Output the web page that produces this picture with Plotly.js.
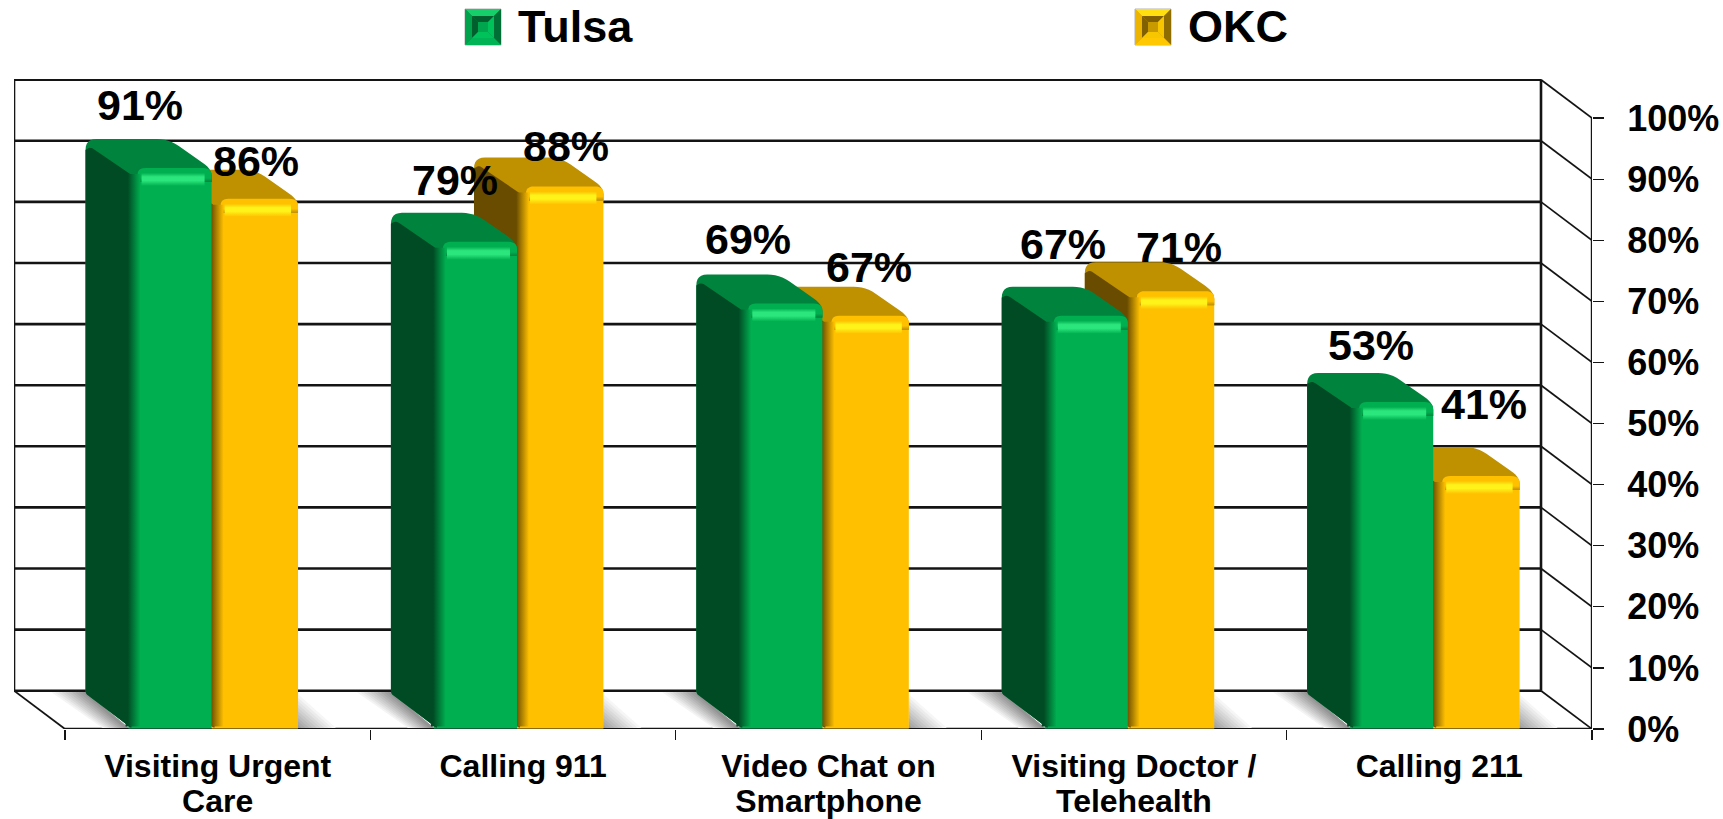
<!DOCTYPE html>
<html><head><meta charset="utf-8">
<script src="https://cdn.plot.ly/plotly-3.0.1.min.js"></script>
<style>html,body{margin:0;padding:0;background:#fff}#c{width:1723px;height:819px}</style>
</head><body><div id="c"></div>
<script>
const categories=['Visiting Urgent<br>Care','Calling 911','Video Chat on<br>Smartphone','Visiting Doctor /<br>Telehealth','Calling 211'];
const tulsa=[91,79,69,67,53];
const okc=[86,88,67,71,41];
const seriesNames=['Tulsa','OKC'];
const percentTicks=[0,10,20,30,40,50,60,70,80,90,100];
const tulsaLabelNudge=[-30,-20,-33,-23,-21];
const okcLabelNudge=[1,6,3,8,8];
const tulsaLabelLift=[68,66,68,76,60];
const okcLabelLift=[43,45,53,48,74];

const W=1723,H=819,L=14,R=1592,T=79,B=729;
const UX=305.4, YB=6.11, YF=6.16;
const px=v=>v/UX, py=v=>v/YF;
const xr=[-0.5-51/UX,4.5], yr=[0,(B-T)/YB], yrBar=[-0.08,(B-T)/YF-0.08];
const depthX=px(51), depthY=38.3/YB;
const ink='#141414';
const font={family:'Liberation Sans, Arial, sans-serif',weight:700,color:'#000'};
const traces=[];
function poly(x,y,color,axis,grad){
  const t={type:'scatter',mode:'none',x,y,fill:'toself',fillcolor:color,hoverinfo:'skip',showlegend:false,cliponaxis:false,xaxis:axis[0],yaxis:axis[1]};
  if(grad)t.fillgradient=grad;
  traces.push(t);
}
function line(x,y,w){traces.push({type:'scatter',mode:'lines',x,y,line:{color:ink,width:w,simplify:false},hoverinfo:'skip',showlegend:false,cliponaxis:false,xaxis:'x',yaxis:'y'});}
// walls
percentTicks.forEach(v=>{
  line([-0.5-depthX,4.5-depthX],[v+depthY,v+depthY],2.6);
  if(v===0)line([-0.5-depthX,-0.5],[depthY,0],1.8);
  line([4.5-depthX,4.5],[v+depthY,v],1.7);
});
line([-0.5-depthX,-0.5-depthX],[depthY,100+depthY],2.6);
line([4.5-depthX,4.5-depthX],[depthY,100+depthY],2.6);
line([4.5,4.5],[0,100],2.4);
line([-0.5,4.5],[0,0],2.6);

const G={tulsa:{a:-0.292,w:0.272,front:'#00B050',side:'#004B24',top:'#00843D',glow:'#2BE67C',ax:['x3','y3']},
         okc:{a:-0.020,w:0.283,front:'#FFC000',side:'#694C00',top:'#BF9000',glow:'#FFF31A',ax:['x2','y2']}};
// rounded outline: vertices [x px, height px, corner radius px]
function rounded(pts){
  const out=[],n=pts.length;
  pts.forEach((p,i)=>{
    const a=pts[(i+n-1)%n],c=pts[(i+1)%n],r=p[2];
    if(!r){out.push([p[0],p[1]]);return;}
    const d1=Math.hypot(a[0]-p[0],a[1]-p[1]),d2=Math.hypot(c[0]-p[0],c[1]-p[1]);
    const r1=Math.min(r,d1/2)/d1,r2=Math.min(r,d2/2)/d2;
    const s=[p[0]+(a[0]-p[0])*r1,p[1]+(a[1]-p[1])*r1],e=[p[0]+(c[0]-p[0])*r2,p[1]+(c[1]-p[1])*r2];
    for(let k=0;k<=6;k++){const t=k/6,u=1-t;out.push([u*u*s[0]+2*u*t*p[0]+t*t*e[0],u*u*s[1]+2*u*t*p[1]+t*t*e[1]]);}
  });
  return out;
}
function shape(cx,pts,color,axis,grad){
  const r=rounded(pts);
  poly(r.map(p=>cx+p[0]/UX),r.map(p=>p[1]/YF),color,axis,grad);
}
function shadow(i){
  const g=G.tulsa,n=10,x0=i+g.a,xb=x0-px(43);
  for(let j=0;j<n;j++){
    const f=1-j/n,c=Math.round(255-(255-148)*(j+1)/n),col=`rgb(${c},${c},${c})`;
    poly([xb,xb-px(34)*f,x0-px(24)*f-px(2),x0],[py(37),py(37),py(1),py(1)],col,['x','y']);
  }
  const o=G.okc,xe=i+o.a+o.w;
  for(let j=0;j<n;j++){
    const f=1-j/n,c=Math.round(255-(255-160)*(j+1)/n),col=`rgb(${c},${c},${c})`;
    poly([xe,xe,xe+px(38)*f],[py(1),py(1)+py(34)*f,py(1)],col,['x','y']);
  }
}
categories.forEach((_,i)=>shadow(i));

function solid(i,v,g){
  const a=i+g.a,wp=g.w*UX,h=v*YF;
  // outline of top and side faces
  shape(a,[[2,1,0],[-43,35,3],[-43,h+29,11],[wp-43,h+29,12],[wp,h-1,11],[wp,h-14,0],[2,h-14,0]],g.top,g.ax);
  // dark side face
  shape(a,[[2,1,4],[-43,35,3],[-43,h+18,0],[-38,h+21,4],[3,h-7,3],[3,1,0]],g.side,g.ax);
  // rounded upper end of the front face, fading from the top colour
  shape(a,[[9,h-14,0],[9,h,8],[wp,h,9],[wp,h-14,0]],g.front,g.ax,{type:'vertical',colorscale:[[0,g.top],[0.28,g.front],[1,g.front]]});
  // soft shading of the front-left edge
  poly([a-px(3),a+px(12),a+px(12),a-px(3)],[py(2),py(2),py(h-6),py(h-6)],g.front,g.ax,{type:'horizontal',colorscale:[[0,g.side],[0.15,g.side],[1,g.front]]});
  // glossy strip under the top edge
  poly([a+px(13),a+px(wp-7),a+px(wp-7),a+px(13)],[py(h-5),py(h-5),py(h-18),py(h-18)],g.front,g.ax,{type:'vertical',colorscale:[[0,g.front],[0.42,g.glow],[0.7,g.glow],[1,g.front]]});
}
traces.push({type:'bar',name:seriesNames[1],x:[0,1,2,3,4],y:okc,width:G.okc.w,offset:G.okc.a,marker:{color:G.okc.front,line:{width:0}},xaxis:'x2',yaxis:'y2',hoverinfo:'x+y',showlegend:false});
okc.forEach((v,i)=>solid(i,v,G.okc));
traces.push({type:'bar',name:seriesNames[0],x:[0,1,2,3,4],y:tulsa,width:G.tulsa.w,offset:G.tulsa.a,marker:{color:G.tulsa.front,line:{width:0}},xaxis:'x3',yaxis:'y3',hoverinfo:'x+y',showlegend:false});
tulsa.forEach((v,i)=>solid(i,v,G.tulsa));

const annotations=[];
function lab(i,v,g,nudgeX,lift){
  annotations.push({xref:'x',yref:'y',x:i+g.a+g.w/2,y:v,xshift:nudgeX,yshift:lift,text:v+'%',showarrow:false,font:{...font,size:43},xanchor:'center',yanchor:'middle'});
}
tulsa.forEach((v,i)=>lab(i,v,G.tulsa,tulsaLabelNudge[i],tulsaLabelLift[i]));
okc.forEach((v,i)=>lab(i,v,G.okc,okcLabelNudge[i],okcLabelLift[i]));

// legend swatches: an outer bevelled frame around a recessed square
const pxX=v=>(v-L)/(R-L), pxY=v=>(B-v)/(B-T);
function legend(x,y,c,name,tx){
  const s=36,P=(pts,col,ln)=>({type:'path',xref:'paper',yref:'paper',line:ln||{width:0},fillcolor:col,layer:'above',
    path:pts.map((p,k)=>(k?'L':'M')+pxX(x+p[0])+','+pxY(y+p[1])).join(' ')+' Z'});
  const bevel=(i,j,cols)=>[
    P([[i,i],[s-i,i],[s-j,j],[j,j]],cols[0]),P([[i,i],[j,j],[j,s-j],[i,s-i]],cols[1]),
    P([[s-i,i],[s-i,s-i],[s-j,s-j],[s-j,j]],cols[2]),P([[i,s-i],[j,s-j],[s-j,s-j],[s-i,s-i]],cols[3])];
  return {ann:{xref:'paper',yref:'paper',x:pxX(tx),y:pxY(27),xanchor:'left',yanchor:'middle',text:name,showarrow:false,font:{...font,size:45}},
   shapes:[P([[0,0],[s,0],[s,s],[0,s]],c[4],{width:1,color:'#b5b5b5'}),...bevel(0,7,c.slice(0,4)),...bevel(7,13,[c[5],c[5],c[6],c[6]]),
     P([[13,13],[s-13,13],[s-13,s-13],[13,s-13]],c[7])]};
}
const l1=legend(465,9,['#16CF6B','#00A24C','#006F35','#00B455','#00853F','#005F2D','#00C25B','#00A54E'],seriesNames[0],516);
const l2=legend(1135,9,['#FFDF10','#EDB500','#8F6D00','#FFC800','#C99A00','#806000','#F7C600','#C89A00'],seriesNames[1],1186);
annotations.push(l1.ann,l2.ann);

const hidden={visible:false,fixedrange:true};
const layout={
  width:W,height:H,margin:{l:L,r:W-R,t:T,b:H-B,pad:0},paper_bgcolor:'#fff',plot_bgcolor:'#fff',showlegend:false,barmode:'overlay',barcornerradius:8,
  xaxis:{range:xr,tickmode:'array',tickvals:[0,1,2,3,4],ticktext:categories,ticks:'',showgrid:false,zeroline:false,showline:false,tickfont:{...font,size:32},ticklabelstandoff:15,
    minor:{tickmode:'array',tickvals:[-0.5,0.5,1.5,2.5,3.5,4.5],ticks:'outside',ticklen:10,tickwidth:1.2,tickcolor:ink,showgrid:false}},
  yaxis:{range:yr,side:'right',anchor:'free',position:1,tickmode:'array',tickvals:percentTicks,ticktext:percentTicks.map(v=>v+'%'),ticks:'outside',ticklen:11,tickwidth:1.2,tickcolor:ink,showgrid:false,zeroline:false,showline:false,tickfont:{...font,size:36},ticklabelstandoff:16},
  xaxis2:{...hidden,range:xr,overlaying:'x'},yaxis2:{...hidden,range:yrBar,overlaying:'y'},
  xaxis3:{...hidden,range:xr,overlaying:'x'},yaxis3:{...hidden,range:yrBar,overlaying:'y'},
  annotations,shapes:[...l1.shapes,...l2.shapes]
};
Plotly.newPlot('c',traces,layout,{displayModeBar:false,staticPlot:true}).then(gd=>{
  gd.querySelectorAll('.xtick text').forEach(t=>{
    t.querySelectorAll('tspan.line').forEach((s,k)=>{if(k>0)s.setAttribute('dy','1.09em');});
  });
});
</script></body></html>
